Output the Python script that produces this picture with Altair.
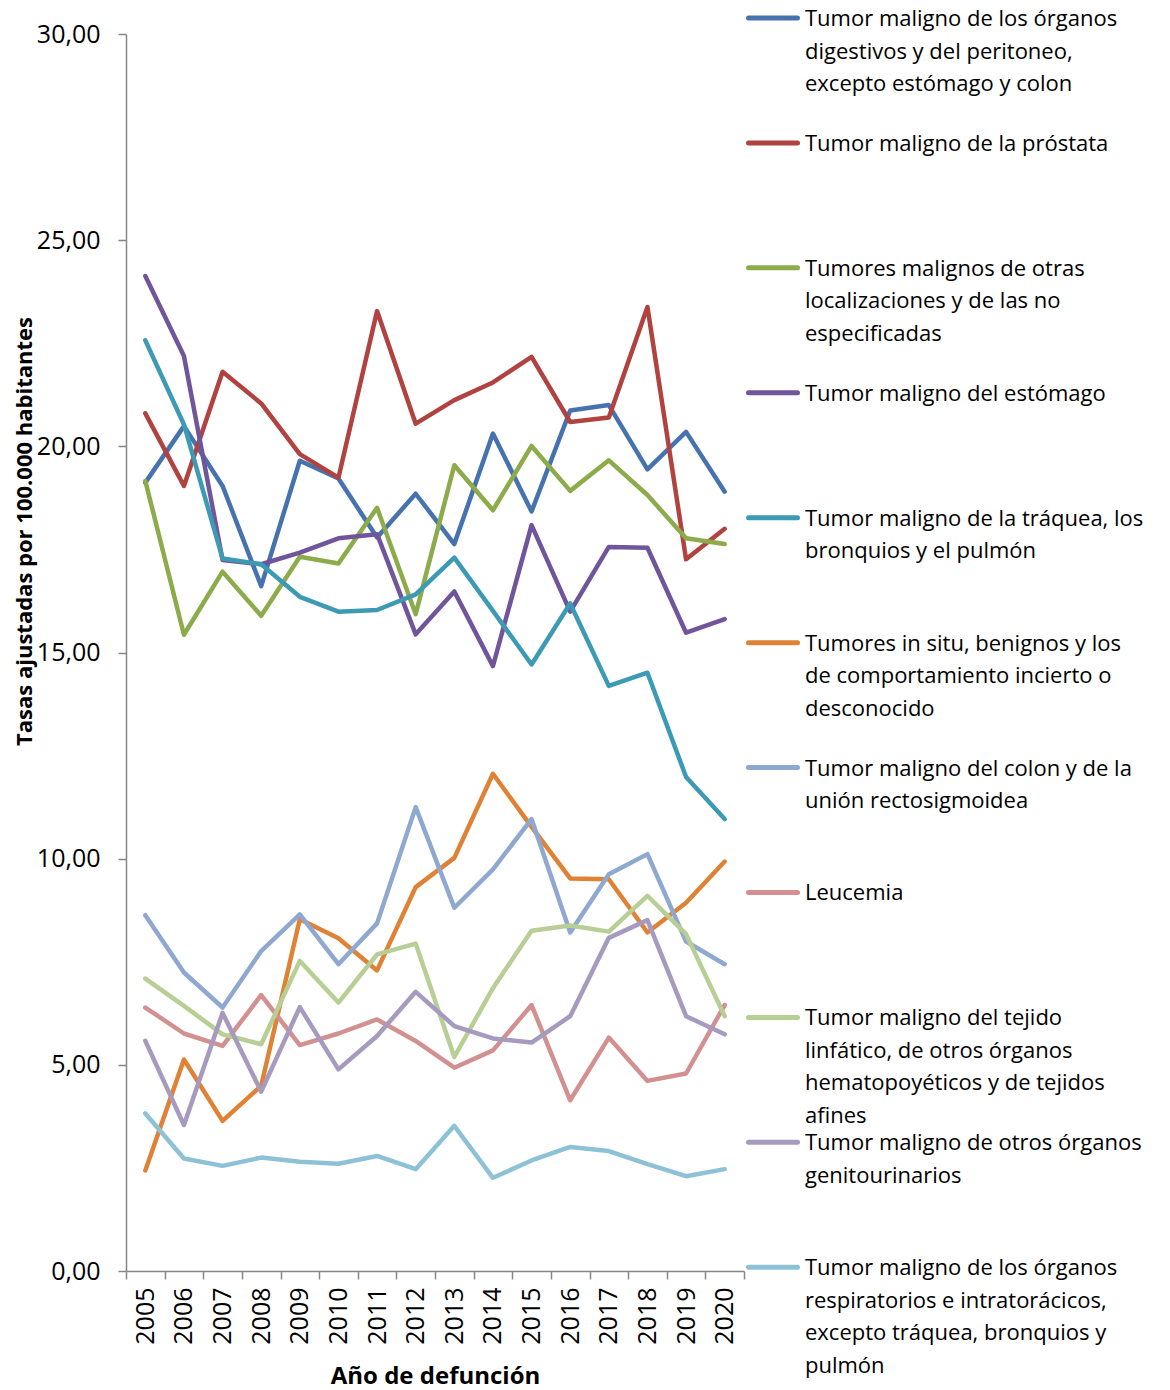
import altair as alt
import pandas as pd

years = [str(y) for y in range(2005, 2021)]

series_names = [
    "Tumor maligno de los órganos digestivos y del peritoneo, excepto estómago y colon",
    "Tumor maligno de la próstata",
    "Tumores malignos de otras localizaciones y de las no especificadas",
    "Tumor maligno del estómago",
    "Tumor maligno de la tráquea, los bronquios y el pulmón",
    "Tumores in situ, benignos y los de comportamiento incierto o desconocido",
    "Tumor maligno del colon y de la unión rectosigmoidea",
    "Leucemia",
    "Tumor maligno del tejido linfático, de otros órganos hematopoyéticos y de tejidos afines",
    "Tumor maligno de otros órganos genitourinarios",
    "Tumor maligno de los órganos respiratorios e intratorácicos, excepto tráquea, bronquios y pulmón",
]

legend_text = [
    "Tumor maligno de los órganos\ndigestivos y del peritoneo,\nexcepto estómago y colon",
    "Tumor maligno de la próstata",
    "Tumores malignos de otras\nlocalizaciones y de las no\nespecificadas",
    "Tumor maligno del estómago",
    "Tumor maligno de la tráquea, los\nbronquios y el pulmón",
    "Tumores in situ, benignos y los\nde comportamiento incierto o\ndesconocido",
    "Tumor maligno del colon y de la\nunión rectosigmoidea",
    "Leucemia",
    "Tumor maligno del tejido\nlinfático, de otros órganos\nhematopoyéticos y de tejidos\nafines",
    "Tumor maligno de otros órganos\ngenitourinarios",
    "Tumor maligno de los órganos\nrespiratorios e intratorácicos,\nexcepto tráquea, bronquios y\npulmón",
]

colors = [
    "#4673AE", "#B0423F", "#8CAB4A", "#71559A", "#3C9AB4", "#E08236",
    "#8EA8CF", "#D29190", "#B7CE95", "#A79ABF", "#8DC2D6",
]

digestivos = [19.12, 20.49, 19.04, 16.61, 19.65, 19.22, 17.79, 18.85, 17.63, 20.31, 18.42, 20.87, 21.00, 19.44, 20.35, 18.90]
prostata = [20.80, 19.04, 21.81, 21.04, 19.81, 19.24, 23.28, 20.55, 21.12, 21.55, 22.17, 20.59, 20.70, 23.38, 17.26, 18.00]
otras = [19.16, 15.43, 16.96, 15.89, 17.32, 17.16, 18.51, 15.93, 19.54, 18.45, 20.01, 18.92, 19.66, 18.82, 17.77, 17.63]
estomago = [24.13, 22.19, 17.24, 17.14, 17.42, 17.77, 17.87, 15.44, 16.48, 14.67, 18.09, 15.99, 17.56, 17.54, 15.48, 15.81]
traquea = [22.57, 20.53, 17.28, 17.14, 16.35, 15.99, 16.03, 16.41, 17.30, 16.01, 14.71, 16.19, 14.19, 14.51, 11.98, 10.96]
insitu = [2.44, 5.13, 3.64, 4.49, 8.53, 8.07, 7.29, 9.31, 10.02, 12.06, 10.77, 9.52, 9.50, 8.21, 8.93, 9.93]
colon = [8.63, 7.24, 6.39, 7.76, 8.65, 7.44, 8.43, 11.25, 8.81, 9.74, 10.96, 8.21, 9.62, 10.11, 7.99, 7.44]
leucemia = [6.39, 5.76, 5.46, 6.69, 5.48, 5.76, 6.10, 5.58, 4.93, 5.35, 6.45, 4.14, 5.66, 4.61, 4.79, 6.45]
linfatico = [7.09, 6.43, 5.74, 5.50, 7.52, 6.51, 7.68, 7.94, 5.19, 6.86, 8.25, 8.38, 8.23, 9.10, 8.17, 6.18]
genitourinarios = [5.58, 3.54, 6.26, 4.35, 6.40, 4.89, 5.70, 6.77, 5.94, 5.64, 5.54, 6.18, 8.08, 8.51, 6.18, 5.74]
respiratorios = [3.82, 2.73, 2.55, 2.75, 2.65, 2.60, 2.79, 2.47, 3.52, 2.26, 2.68, 3.01, 2.91, 2.59, 2.30, 2.47]

all_series = [digestivos, prostata, otras, estomago, traquea, insitu, colon,
              leucemia, linfatico, genitourinarios, respiratorios]

y_ticks = [0, 5, 10, 15, 20, 25, 30]

rows = []
for i, (name, vals) in enumerate(zip(series_names, all_series)):
    for yr, v in zip(years, vals):
        rows.append({"serie": name, "anio": yr, "tasa": v, "orden": i})
df = pd.DataFrame(rows)

leg = pd.DataFrame({"serie": series_names, "idx": list(range(len(series_names))), "texto": legend_text})

FONT = "Open Sans"
W, H = 618, 1237
color_scale = alt.Scale(domain=series_names, range=colors)

lines = alt.Chart(df).mark_line(strokeWidth=4.5, strokeCap="round", strokeJoin="round").encode(
    x=alt.X("anio:O", title="Año de defunción",
            scale=alt.Scale(type="band", paddingInner=0, paddingOuter=0),
            axis=alt.Axis(labelAngle=270, tickBand="extent", labelFontSize=25, labelFont=FONT,
                          labelColor="#000000", labelPadding=8, tickSize=8,
                          domainColor="#868686", tickColor="#868686", domainWidth=1.5, tickWidth=1.5,
                          titleFontSize=24, titleFont=FONT, titleFontWeight="bold", titleColor="#000000",
                          titlePadding=20)),
    y=alt.Y("tasa:Q", title="Tasas ajustadas por 100.000 habitantes",
            scale=alt.Scale(domain=[0, 30], nice=False),
            axis=alt.Axis(values=y_ticks, grid=False, labelExpr="replace(format(datum.value, '.2f'), '.', ',')",
                          labelFontSize=25, labelFont=FONT, labelColor="#000000", labelPadding=18,
                          tickSize=8, domainColor="#868686", tickColor="#868686", domainWidth=1.5, tickWidth=1.5,
                          titleFontSize=22, titleFont=FONT, titleFontWeight="bold", titleColor="#000000",
                          titleAngle=270, titleAlign="center", titleBaseline="middle",
                          titleX=-102, titleY=497)),
    color=alt.Color("serie:N", scale=color_scale, legend=None),
    order=alt.Order("orden:Q"),
    detail="serie:N",
)

leg_y = alt.Y("idx:Q", scale=alt.Scale(domain=[0.128, 10.03], reverse=True, nice=False, zero=False), axis=None)

leg_rules = alt.Chart(leg).mark_rule(strokeWidth=5, strokeCap="round").encode(
    x=alt.value(622.5), x2=alt.value(671.5), y=leg_y,
    color=alt.Color("serie:N", scale=color_scale, legend=None),
)

leg_text = alt.Chart(leg).mark_text(align="left", baseline="alphabetic", dy=8, fontSize=22, font=FONT,
                                    lineBreak="\n", lineHeight=32.5, color="#000000").encode(
    x=alt.value(679), y=leg_y, text="texto:N",
)

chart = alt.layer(lines, leg_rules, leg_text).resolve_scale(y="independent").properties(
    width=W, height=H, background="white",
    padding={"left": 5, "top": 0, "right": 0, "bottom": 5}
).configure_view(strokeWidth=0, stroke="transparent")

chart.save("out.html", embed_options={"renderer": "svg", "actions": False})
